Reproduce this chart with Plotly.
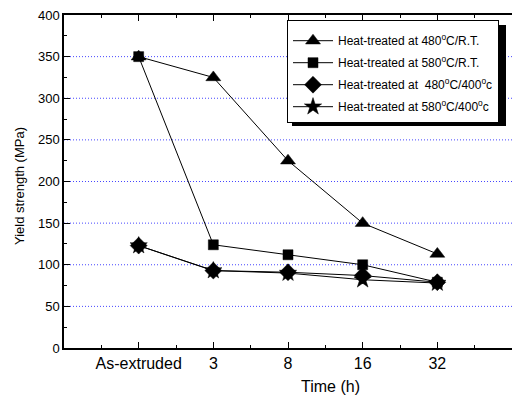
import plotly.graph_objects as go

categories = ["As-extruded", "3", "8", "16", "32"]
series_names = [
    "Heat-treated at 480<sup>o</sup>C/R.T.",
    "Heat-treated at 580<sup>o</sup>C/R.T.",
    "Heat-treated at  480<sup>o</sup>C/400<sup>o</sup>c",
    "Heat-treated at 580<sup>o</sup>C/400<sup>o</sup>c",
]
ys_480_rt = [350, 325, 225, 150, 113]
ys_580_rt = [350, 124, 112, 100, 79]
ys_480_400 = [123, 93, 91, 87, 79]
ys_580_400 = [123, 93, 90, 82, 78]
y_ticks = [0, 50, 100, 150, 200, 250, 300, 350, 400]

x_pos = list(range(1, len(categories) + 1))
symbols = ["triangle-up", "square", "diamond", "star"]
sizes = [13, 10, 13, 13]
all_y = [ys_480_rt, ys_580_rt, ys_480_400, ys_580_400]

FONT = "Liberation Sans, Arial, sans-serif"
fig = go.Figure()
for i, (name, ys) in enumerate(zip(series_names, all_y)):
    fig.add_trace(go.Scatter(
        x=x_pos, y=ys, name=name, mode="lines+markers",
        line=dict(color="black", width=1),
        marker=dict(symbol=symbols[i], size=sizes[i], color="black",
                    line=dict(color="black", width=0.5)),
        legendgroup=f"g{i}",
    ))

L, T, B = 64, 15, 54
W, H = 512, 402
pw, ph = W - L, H - T - B

def px(xp):
    return (xp - L) / pw

def py(yp):
    return (H - B - yp) / ph

fig.update_layout(
    width=W, height=H,
    margin=dict(l=L, r=0, t=T, b=B),
    paper_bgcolor="white", plot_bgcolor="white",
    font=dict(family=FONT, color="black"),
    showlegend=True,
    legend=dict(
        x=px(287), y=py(20), xanchor="left", yanchor="top",
        bgcolor="white", bordercolor="black", borderwidth=1,
        font=dict(size=12, family=FONT), tracegroupgap=3,
        traceorder="grouped", itemwidth=40,
        title=dict(text=" ", font=dict(size=4)),
    ),
    xaxis=dict(
        range=[0, 6], tickmode="array", tickvals=x_pos, ticktext=categories,
        showgrid=False, zeroline=False,
        showline=True, linecolor="black", linewidth=1.5, mirror="ticks",
        ticks="inside", ticklen=6, tickcolor="black", tickwidth=1,
        tickfont=dict(size=16, family=FONT),
        minor=dict(tickmode="array", tickvals=[v + 0.5 for v in range(0, 6)],
                   ticks="inside", ticklen=3, tickcolor="black"),
    ),
    yaxis=dict(
        range=[0, 400], tickmode="array", tickvals=y_ticks,
        showgrid=False, zeroline=False,
        showline=True, linecolor="black", linewidth=1.5,
        ticks="inside", ticklen=6, tickcolor="black", tickwidth=1,
        tickfont=dict(size=13, family=FONT),
        minor=dict(dtick=25, ticks="inside", ticklen=3, tickcolor="black"),
    ),
)

# dotted blue reference lines
for v in y_ticks[1:-1]:
    fig.add_shape(type="line", xref="paper", yref="y", x0=0, x1=1, y0=v, y1=v,
                  line=dict(color="rgb(70,70,255)", width=1, dash="1px,2px"), layer="below")

# legend shadow
fig.add_shape(type="rect", xref="paper", yref="paper",
              x0=px(292), x1=px(506), y0=py(126), y1=py(25),
              fillcolor="black", line=dict(width=0), layer="above")

fig.add_annotation(text="Time (h)", xref="paper", yref="paper",
                   x=px(330), y=py(386), xanchor="center", yanchor="middle",
                   showarrow=False, font=dict(size=16, family=FONT))
fig.add_annotation(text="Yield strength (MPa)", xref="paper", yref="paper",
                   x=px(19), y=py(186), xanchor="center", yanchor="middle",
                   showarrow=False, textangle=-90,
                   font=dict(size=13, family=FONT))

fig.write_html("out.html", config={"displayModeBar": False},
               post_script="document.body.style.margin='0';")
